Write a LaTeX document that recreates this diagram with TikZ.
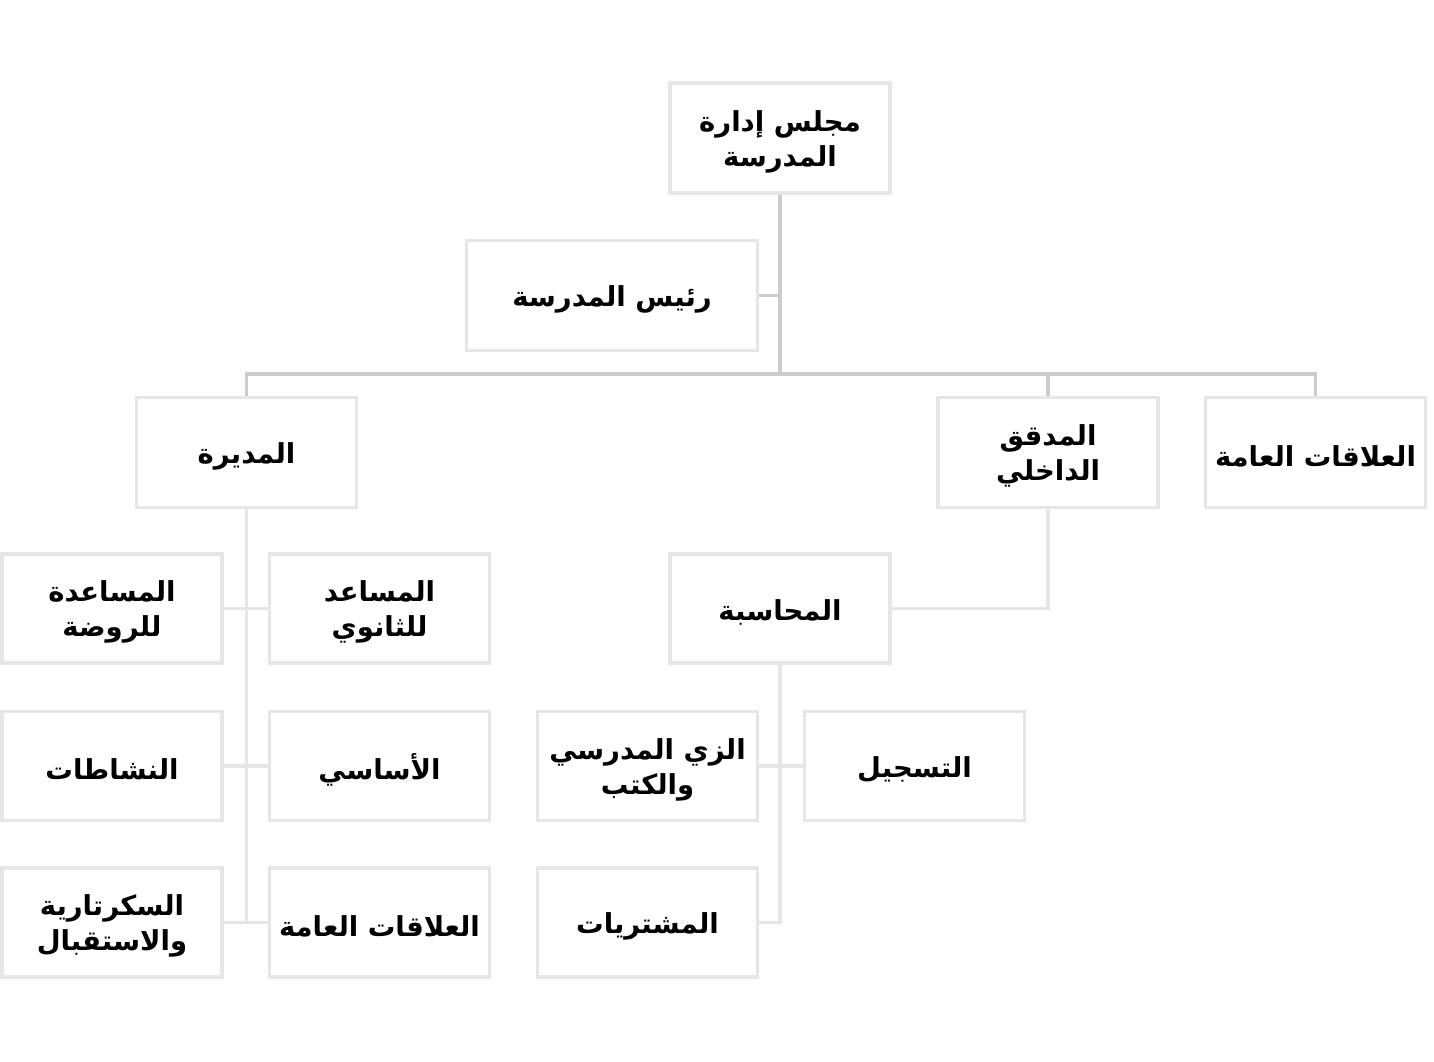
\documentclass[tikz,border=0pt]{standalone}
\usepackage{fontspec}
\newfontfamily\arabicfont[Script=Arabic]{DejaVu Sans}
\TeXXeTstate=1
\definecolor{boxline}{HTML}{E6E6E6}
\definecolor{topline}{HTML}{CCCCCC}
\newcommand{\AR}[1]{\raisebox{-3.5pt}[\height][\depth]{\beginR #1\endR}}
\begin{document}
\begin{tikzpicture}[x=1pt,y=-1pt,
  orgbox/.style={draw=boxline, line width=3.5pt, fill=white, minimum width=220pt, minimum height=109pt,
    align=center, inner sep=2pt, font=\arabicfont\bfseries\fontsize{27.5}{35}\selectfont},
  topconn/.style={draw=topline, line width=3.5pt},
  lowconn/.style={draw=boxline, line width=3.5pt}]
\useasboundingbox (0,0) rectangle (1434,1062);
% nodes
\node[orgbox, minimum height=110pt] (board) at (780,138) {\AR{مجلس إدارة}\\\AR{المدرسة}};
\node[orgbox, minimum width=291pt, minimum height=110pt] (principal) at (612,295.5) {\AR{رئيس المدرسة}};
\node[orgbox, minimum height=110pt] (director) at (246.5,452.5) {\AR{المديرة}};
\node[orgbox, minimum height=110pt] (auditor) at (1048,452.5) {\AR{المدقق}\\\AR{الداخلي}};
\node[orgbox, minimum height=110pt] (pr) at (1315.5,452.5) {\AR{العلاقات العامة}};
\node[orgbox] (kg) at (112,608.5) {\AR{المساعدة}\\\AR{للروضة}};
\node[orgbox] (sec) at (379.5,608.5) {\AR{المساعد}\\\AR{للثانوي}};
\node[orgbox] (act) at (112,766) {\AR{النشاطات}};
\node[orgbox] (basic) at (379.5,766) {\AR{الأساسي}};
\node[orgbox] (secr) at (112,922.5) {\AR{السكرتارية}\\\AR{والاستقبال}};
\node[orgbox] (pr2) at (379.5,922.5) {\AR{العلاقات العامة}};
\node[orgbox] (acc) at (780,608.5) {\AR{المحاسبة}};
\node[orgbox] (uni) at (647.5,766) {\AR{الزي المدرسي}\\\AR{والكتب}};
\node[orgbox] (reg) at (914.5,766) {\AR{التسجيل}};
\node[orgbox] (pur) at (647.5,922.5) {\AR{المشتريات}};
\coordinate (bus) at (780,374);
% connectors (top tier)
\draw[topconn] (board.south) -- (bus);
\draw[topconn] (principal.east) -- (principal.east -| board.south);
\draw[topconn] (director.north) -- (director.north |- bus) -- (pr.north |- bus) -- (pr.north);
\draw[topconn] (auditor.north |- bus) -- (auditor.north);
% lower tier
\draw[lowconn] (director.south) -- (director.south |- secr.east);
\draw[lowconn] (kg.east) -- (sec.west);
\draw[lowconn] (act.east) -- (basic.west);
\draw[lowconn] (secr.east) -- (pr2.west);
\draw[lowconn] (auditor.south) |- (acc.east);
\draw[lowconn] (acc.south) -- (acc.south |- pur.east) -- (pur.east);
\draw[lowconn] (uni.east) -- (reg.west);
\end{tikzpicture}
\end{document}
